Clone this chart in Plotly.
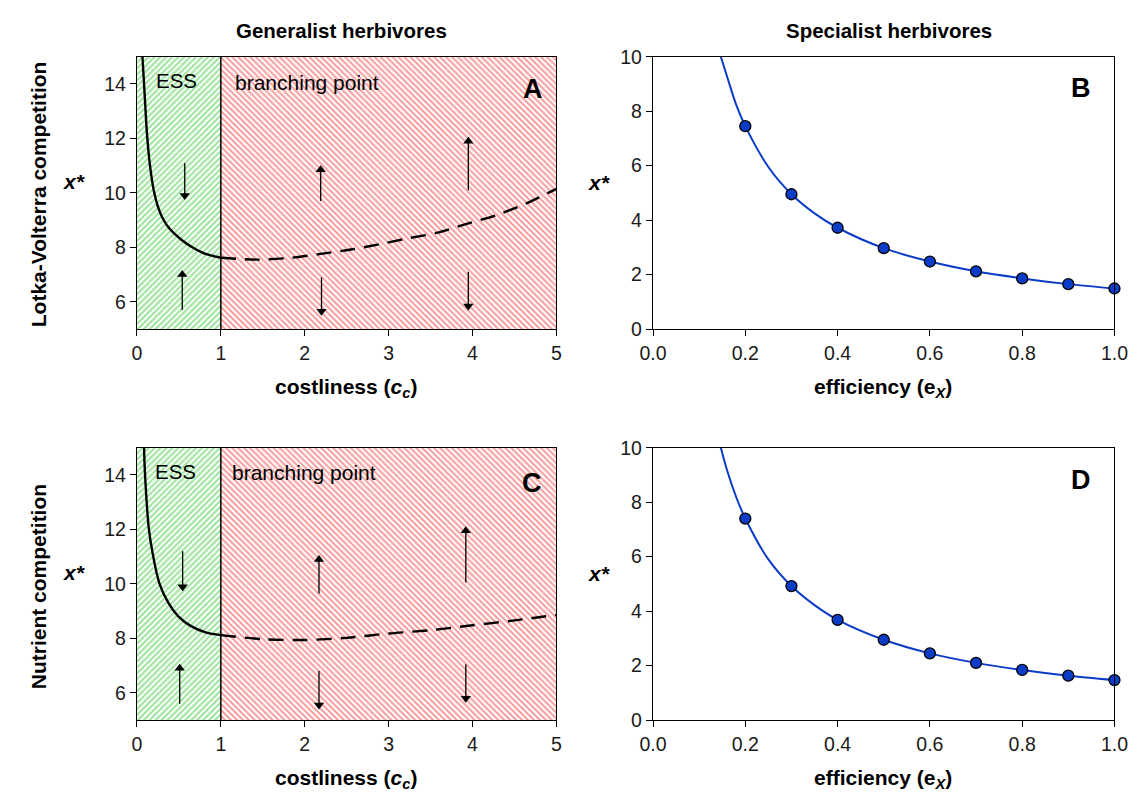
import plotly.graph_objects as go

# ---------------- data ----------------
# Panel A (Lotka-Volterra competition, generalist herbivores)
a_solid_c = [0.066, 0.085, 0.124, 0.16, 0.20, 0.25, 0.31, 0.39, 0.53, 0.65, 0.80, 1.00]
a_solid_x = [15.0, 14.0, 12.0, 10.9, 10.1, 9.5, 9.05, 8.68, 8.28, 8.02, 7.78, 7.62]
a_dash_c = [1.00, 1.44, 1.84, 2.19, 2.55, 2.90, 3.21, 3.57, 3.92, 4.28, 4.63, 5.00]
a_dash_x = [7.62, 7.55, 7.62, 7.76, 7.92, 8.12, 8.32, 8.53, 8.85, 9.18, 9.60, 10.15]
# Panel C (Nutrient competition, generalist herbivores)
c_solid_c = [0.085, 0.097, 0.143, 0.19, 0.27, 0.375, 0.49, 0.645, 0.82, 1.00]
c_solid_x = [15.0, 14.0, 12.0, 11.08, 10.0, 9.30, 8.82, 8.45, 8.22, 8.12]
c_dash_c = [1.00, 1.50, 2.00, 2.50, 3.00, 3.50, 4.00, 4.50, 5.00]
c_dash_x = [8.12, 7.97, 7.94, 8.02, 8.18, 8.30, 8.48, 8.66, 8.86]

# direction arrows: (c, tail x*, head x*)
a_arrows = [(0.57, 11.1, 9.9), (0.54, 5.7, 7.0), (2.19, 9.7, 10.85),
            (3.95, 10.1, 11.9), (2.20, 6.9, 5.65), (3.95, 7.1, 5.85)]
c_arrows = [(0.545, 11.2, 9.9), (0.51, 5.6, 6.9), (2.17, 9.65, 10.9),
            (3.92, 10.05, 11.95), (2.17, 6.8, 5.55), (3.92, 7.05, 5.8)]

# Panels B and D (specialist herbivores)
e_curve = [0.147, 0.16, 0.18, 0.20, 0.25, 0.30, 0.35, 0.40, 0.50, 0.60, 0.70, 0.80, 0.90, 1.00]
b_curve = [10.0, 9.3, 8.25, 7.45, 5.95, 4.95, 4.25, 3.72, 2.97, 2.48, 2.12, 1.86, 1.65, 1.49]
d_curve = [10.0, 9.2, 8.2, 7.40, 5.90, 4.92, 4.22, 3.68, 2.95, 2.45, 2.10, 1.84, 1.63, 1.47]
e_pts = [0.2, 0.3, 0.4, 0.5, 0.6, 0.7, 0.8, 0.9, 1.0]
b_pts = [7.45, 4.95, 3.72, 2.97, 2.48, 2.12, 1.86, 1.65, 1.49]
d_pts = [7.40, 4.92, 3.68, 2.95, 2.45, 2.10, 1.84, 1.63, 1.47]

boundary_c = 1.0
c_range = [0, 5]
xstar_range_gen = [5, 15]
xstar_range_spec = [0, 10]
c_ticks = [0, 1, 2, 3, 4, 5]
gen_yticks = [6, 8, 10, 12, 14]
e_ticks = [0.0, 0.2, 0.4, 0.6, 0.8, 1.0]
spec_yticks = [0, 2, 4, 6, 8, 10]

# ---------------- figure ----------------
W, H = 1147, 805
FONT = "Liberation Sans, Arial, sans-serif"
fig = go.Figure()


def px(x):
    return x / W


def py(y):
    return 1 - y / H


xdomA = [px(126), px(556)]
xdomB = [px(655), px(1128)]
ydom1 = [py(327), py(47)]
ydom2 = [py(729), py(449)]

GREEN = "#35C835"
RED = "#EE3C3C"


def hatch(xa, ya, x0, x1, y0, y1, shape, color):
    fig.add_trace(go.Scatter(
        x=[x0, x1, x1, x0, x0], y=[y0, y0, y1, y1, y0], xaxis=xa, yaxis=ya,
        mode="lines", fill="toself", line=dict(width=0),
        fillcolor="rgba(0,0,0,0)",
        fillpattern=dict(shape=shape, fgcolor=color, bgcolor="white",
                         size=4.2, solidity=0.48),
        hoverinfo="skip", showlegend=False))


for xa, ya, sc, sx, dc, dx, arrows in [
        ("x", "y", a_solid_c, a_solid_x, a_dash_c, a_dash_x, a_arrows),
        ("x3", "y3", c_solid_c, c_solid_x, c_dash_c, c_dash_x, c_arrows)]:
    hatch(xa, ya, c_range[0], boundary_c, xstar_range_gen[0], xstar_range_gen[1], "/", GREEN)
    hatch(xa, ya, boundary_c, c_range[1], xstar_range_gen[0], xstar_range_gen[1], "\\", RED)
    fig.add_trace(go.Scatter(x=sc, y=sx, xaxis=xa, yaxis=ya, mode="lines",
                             line=dict(color="black", width=2.4, shape="spline", smoothing=1.0),
                             hoverinfo="skip", showlegend=False))
    fig.add_trace(go.Scatter(x=dc, y=dx, xaxis=xa, yaxis=ya, mode="lines",
                             line=dict(color="black", width=2.4, shape="spline",
                                       smoothing=0.8, dash="15px,9px"),
                             hoverinfo="skip", showlegend=False))
    fig.add_shape(type="line", xref=xa, yref=ya, x0=boundary_c, x1=boundary_c,
                  y0=xstar_range_gen[0], y1=xstar_range_gen[1],
                  line=dict(color="black", width=1.5))
    # arrows: shaft + triangular head
    for cx, t, h in arrows:
        fig.add_trace(go.Scatter(x=[cx, cx], y=[t, h], xaxis=xa, yaxis=ya, mode="lines",
                                 line=dict(color="black", width=1.3),
                                 hoverinfo="skip", showlegend=False))
        fig.add_trace(go.Scatter(x=[cx], y=[h], xaxis=xa, yaxis=ya, mode="markers",
                                 marker=dict(symbol="triangle-up" if h > t else "triangle-down",
                                             size=9, color="black", line=dict(width=0)),
                                 hoverinfo="skip", showlegend=False))

BLUE = "#0B3CC8"
for xa, ya, cy, pts in [("x2", "y2", b_curve, b_pts), ("x4", "y4", d_curve, d_pts)]:
    fig.add_trace(go.Scatter(x=e_curve, y=cy, xaxis=xa, yaxis=ya, mode="lines",
                             line=dict(color=BLUE, width=2, shape="spline", smoothing=0.8),
                             hoverinfo="skip", showlegend=False))
    fig.add_trace(go.Scatter(x=e_pts, y=pts, xaxis=xa, yaxis=ya, mode="markers",
                             marker=dict(color=BLUE, size=11, line=dict(color="black", width=1.3)),
                             cliponaxis=False, hoverinfo="skip", showlegend=False))

annotations = []


def txt(x, y, s, size, bold=False, angle=0, italic=False):
    annotations.append(dict(x=px(x), y=py(y), xref="paper", yref="paper", text=s,
                            showarrow=False, textangle=angle, xanchor="center", yanchor="middle",
                            font=dict(family=FONT, size=size, color="black",
                                      weight="bold" if bold else "normal",
                                      style="italic" if italic else "normal")))


txt(336, 20, "Generalist herbivores", 20.5, True)
txt(897, 20, "Specialist herbivores", 20.5, True)
txt(25, 188, "Lotka-Volterra competition", 21, True, -90)
txt(25, 592, "Nutrient competition", 21, True, -90)
for (x, y) in [(62, 175), (600, 176), (62, 577), (600, 578)]:
    txt(x, y, "x*", 21, True, italic=True)
txt(340, 388, "costliness (<i>c</i><sub><i>c</i></sub>)", 21, True)
txt(340, 790, "costliness (<i>c</i><sub><i>c</i></sub>)", 21, True)
txt(891, 388, "efficiency (e<sub><i>X</i></sub>)", 21, True)
txt(891, 790, "efficiency (e<sub><i>X</i></sub>)", 21, True)
txt(167, 71, "ESS", 20.5)
txt(166, 473, "ESS", 20.5)
txt(300, 73, "branching point", 21)
txt(297, 474, "branching point", 21)
txt(532, 80, "A", 27, True)
txt(1094, 79, "B", 27, True)
txt(531, 485, "C", 27, True)
txt(1094, 482, "D", 27, True)

axis_common = dict(showline=True, linecolor="black", linewidth=1.3, mirror=True,
                   ticks="outside", ticklen=6, tickwidth=1.3, tickcolor="black",
                   showgrid=False, zeroline=False,
                   tickfont=dict(family=FONT, size=19.5, color="#1a1a1a"))

fig.update_layout(
    width=W, height=H, margin=dict(l=0, r=0, t=0, b=0),
    paper_bgcolor="white", plot_bgcolor="white", showlegend=False,
    annotations=annotations,
    xaxis=dict(domain=xdomA, anchor="y", range=c_range, tickvals=c_ticks, **axis_common),
    yaxis=dict(domain=ydom1, anchor="x", range=xstar_range_gen, tickvals=gen_yticks, **axis_common),
    xaxis2=dict(domain=xdomB, anchor="y2", range=[0, 1], tickvals=e_ticks, tickformat=".1f", **axis_common),
    yaxis2=dict(domain=ydom1, anchor="x2", range=xstar_range_spec, tickvals=spec_yticks, **axis_common),
    xaxis3=dict(domain=xdomA, anchor="y3", range=c_range, tickvals=c_ticks, **axis_common),
    yaxis3=dict(domain=ydom2, anchor="x3", range=xstar_range_gen, tickvals=gen_yticks, **axis_common),
    xaxis4=dict(domain=xdomB, anchor="y4", range=[0, 1], tickvals=e_ticks, tickformat=".1f", **axis_common),
    yaxis4=dict(domain=ydom2, anchor="x4", range=xstar_range_spec, tickvals=spec_yticks, **axis_common),
)

fig.write_html("out.html")
